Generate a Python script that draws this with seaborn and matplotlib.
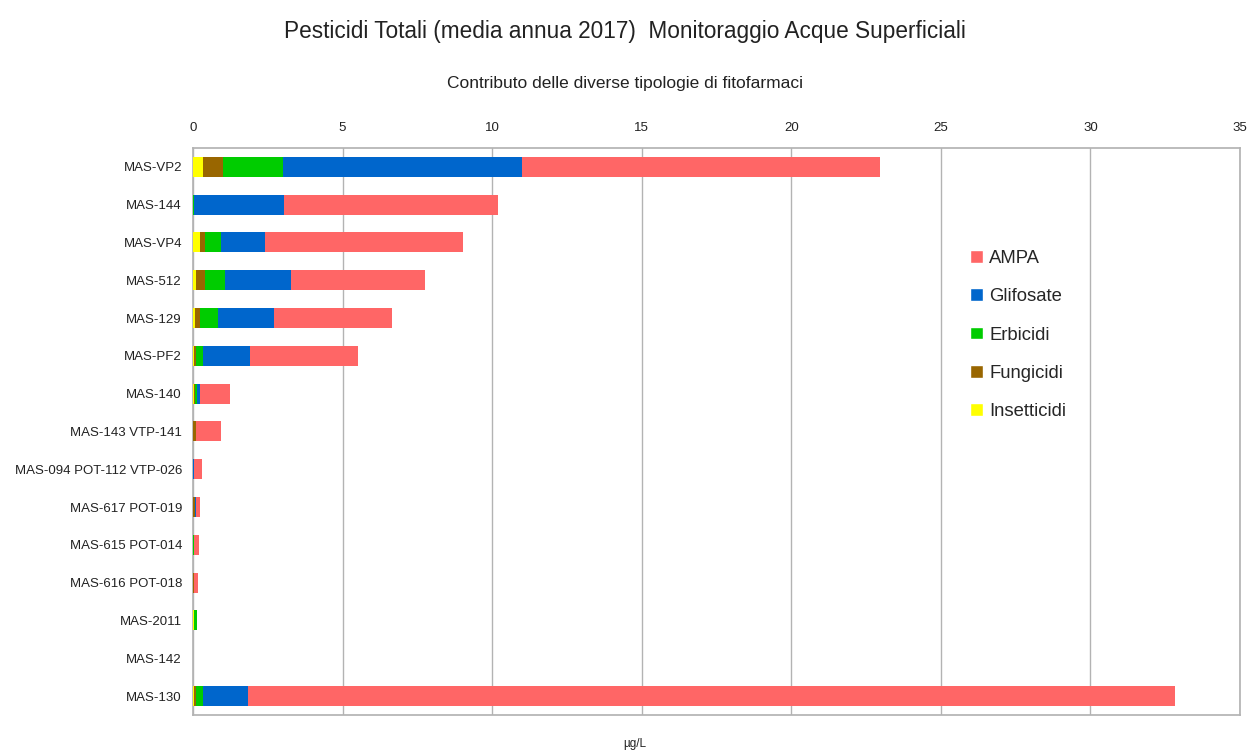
import seaborn as sns
import matplotlib.pyplot as plt
import numpy as np
import pandas as pd
from matplotlib.patches import Patch

stazioni = ["MAS-VP2", "MAS-144", "MAS-VP4", "MAS-512", "MAS-129", "MAS-PF2", "MAS-140",
            "MAS-143 VTP-141", "MAS-094 POT-112 VTP-026", "MAS-617 POT-019", "MAS-615 POT-014",
            "MAS-616 POT-018", "MAS-2011", "MAS-142", "MAS-130"]
insetticidi = [0.33, 0.00, 0.23, 0.09, 0.08, 0.05, 0.03, 0.00, 0.00, 0.00, 0.00, 0.00, 0.02, 0.0, 0.05]
fungicidi   = [0.66, 0.00, 0.17, 0.31, 0.15, 0.05, 0.03, 0.09, 0.00, 0.08, 0.00, 0.03, 0.02, 0.0, 0.05]
erbicidi    = [2.01, 0.05, 0.53, 0.66, 0.59, 0.23, 0.07, 0.00, 0.00, 0.00, 0.02, 0.00, 0.08, 0.0, 0.23]
glifosate   = [8.00, 2.99, 1.49, 2.22, 1.88, 1.57, 0.10, 0.00, 0.03, 0.03, 0.00, 0.00, 0.00, 0.0, 1.50]
ampa        = [11.97, 7.15, 6.62, 4.48, 3.95, 3.61, 1.00, 0.83, 0.26, 0.11, 0.17, 0.13, 0.00, 0.0, 31.00]

serie = ["Insetticidi", "Fungicidi", "Erbicidi", "Glifosate", "AMPA"]
colori = {"Insetticidi": "#ffff00", "Fungicidi": "#996600", "Erbicidi": "#00cc00",
          "Glifosate": "#0066cc", "AMPA": "#ff6666"}

df = pd.DataFrame({"Stazione": stazioni, "Insetticidi": insetticidi, "Fungicidi": fungicidi,
                   "Erbicidi": erbicidi, "Glifosate": glifosate, "AMPA": ampa})
cum = df[serie].cumsum(axis=1)

sns.set_theme(style="white")
plt.rcParams['font.family'] = ['Liberation Sans', 'DejaVu Sans']

fig, ax = plt.subplots(figsize=(12.5, 7.53), dpi=100)
fig.subplots_adjust(left=0.1544, right=0.992, top=0.8035, bottom=0.0505)

# stacked bars: totals first, then the smaller partial sums on top
for s in serie[::-1]:
    sns.barplot(x=cum[s], y=df["Stazione"], color=colori[s], orient="h", width=0.53,
                ax=ax, saturation=1, linewidth=0, zorder=3)

ax.set_xlim(0, 35)
ax.set_xticks(np.arange(0, 36, 5))
ax.xaxis.tick_top()
ax.xaxis.set_label_position("top")
ax.set_xlabel("")
ax.set_ylabel("")
ax.grid(axis="x", color="#b3b3b3", linewidth=1, zorder=0)
ax.set_axisbelow(True)
for sp in ax.spines.values():
    sp.set_color("#b3b3b3")
    sp.set_visible(True)
ax.tick_params(axis="x", length=0, pad=10, labelsize=9.5, colors="#222222")
ax.tick_params(axis="y", which="major", length=0, pad=8, labelsize=9.5, labelcolor="#222222")
ax.set_yticks(np.arange(-0.5, len(stazioni), 1), minor=True)
ax.tick_params(axis="y", which="minor", length=6, direction="inout", color="#b3b3b3", width=1)
ax.set_ylim(len(stazioni) - 0.5, -0.5)

handles = [Patch(facecolor=colori[s], label=s) for s in serie[::-1]]
fig.legend(handles=handles, loc="upper left", bbox_to_anchor=(0.763, 0.69), frameon=False,
           fontsize=13.3, handlelength=0.68, handleheight=0.68, labelspacing=1.15, handletextpad=0.35)

fig.text(0.5, 0.958, "Pesticidi Totali (media annua 2017)  Monitoraggio Acque Superficiali",
         ha="center", va="center", fontsize=16.3, color="#222222")
fig.text(0.5, 0.889, "Contributo delle diverse tipologie di fitofarmaci",
         ha="center", va="center", fontsize=12.5, color="#222222")
fig.text(0.508, 0.012, "µg/L", ha="center", va="center", fontsize=8.5, color="#222222")

fig.savefig("out.png", dpi=100)
